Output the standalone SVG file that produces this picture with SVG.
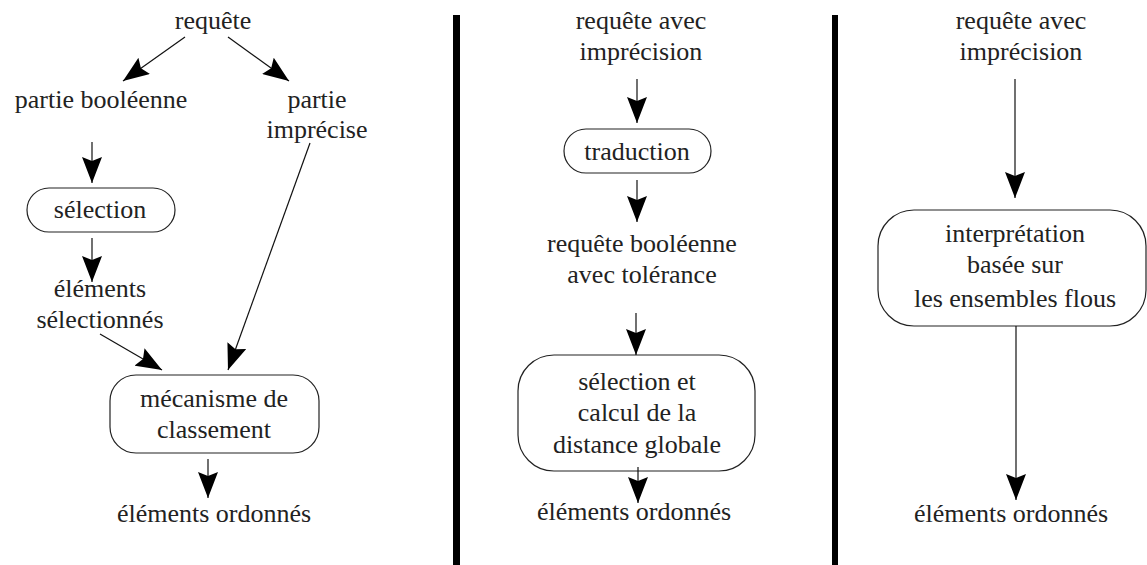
<svg xmlns="http://www.w3.org/2000/svg" width="1147" height="565" viewBox="0 0 1147 565">
<style>
text{font-family:'Times New Roman','Liberation Serif',Times,serif;font-size:26px;fill:#222;text-anchor:middle}
.box{fill:#fff;stroke:#222;stroke-width:1.2}
.ed{stroke:#111;stroke-width:1.2;fill:none;marker-end:url(#ah)}
.div{fill:#000}
</style>
<defs>
<marker id="ah" markerUnits="userSpaceOnUse" markerWidth="26" markerHeight="20" refX="26" refY="10" orient="auto" viewBox="0 0 26 20">
<path d="M0,0 L26,10 L0,20 L4,10 z" fill="#000"/>
</marker>
</defs>
<rect class="div" x="453" y="15" width="7" height="550"/>
<rect class="div" x="832" y="15" width="6" height="550"/>
<g id="p1-requete"><text x="213" y="29">requête</text></g>
<g id="p1-bool"><text x="101" y="108">partie booléenne</text></g>
<g id="p1-imprecise"><text x="317" y="108">partie</text><text x="317" y="138">imprécise</text></g>
<g id="p1-selection"><rect class="box" x="27" y="188" width="148" height="44" rx="22"/><text x="100" y="218">sélection</text></g>
<g id="p1-elsel"><text x="100" y="297">éléments</text><text x="100" y="328">sélectionnés</text></g>
<g id="p1-meca"><rect class="box" x="110" y="375" width="209" height="78" rx="26"/><text x="214" y="407">mécanisme de</text><text x="214" y="438">classement</text></g>
<g id="p1-ord"><text x="214" y="522">éléments ordonnés</text></g>
<g id="p2-req"><text x="641" y="29">requête avec</text><text x="641" y="60">imprécision</text></g>
<g id="p2-trad"><rect class="box" x="564" y="129" width="147" height="44" rx="22"/><text x="637" y="160">traduction</text></g>
<g id="p2-reqbool"><text x="642" y="252">requête booléenne</text><text x="642" y="283">avec tolérance</text></g>
<g id="p2-sel"><rect class="box" x="518" y="355" width="237" height="116" rx="36"/><text x="637" y="390">sélection et</text><text x="637" y="421">calcul de la</text><text x="637" y="453">distance globale</text></g>
<g id="p2-ord"><text x="634" y="520">éléments ordonnés</text></g>
<g id="p3-req"><text x="1021" y="29">requête avec</text><text x="1021" y="60">imprécision</text></g>
<g id="p3-interp"><rect class="box" x="878" y="210" width="268" height="116" rx="36"/><text x="1015" y="242">interprétation</text><text x="1015" y="273">basée sur</text><text x="1015" y="307">les ensembles flous</text></g>
<g id="p3-ord"><text x="1011" y="522">éléments ordonnés</text></g>
<g id="connectors">
<line class="ed" x1="185" y1="37" x2="123" y2="81"/>
<line class="ed" x1="228" y1="37" x2="289" y2="81"/>
<line class="ed" x1="92" y1="142" x2="92" y2="183"/>
<line class="ed" x1="92" y1="238" x2="92" y2="282"/>
<line class="ed" x1="100" y1="334" x2="162" y2="370"/>
<line class="ed" x1="310" y1="143" x2="228" y2="370"/>
<line class="ed" x1="208" y1="459" x2="208" y2="498"/>
<line class="ed" x1="637" y1="79" x2="637" y2="123"/>
<line class="ed" x1="637" y1="180" x2="637" y2="222"/>
<line class="ed" x1="636" y1="313" x2="636" y2="355"/>
<line class="ed" x1="638" y1="467" x2="638" y2="503"/>
<line class="ed" x1="1015" y1="79" x2="1015" y2="198"/>
<line class="ed" x1="1016" y1="326" x2="1016" y2="500"/>
</g>
</svg>
